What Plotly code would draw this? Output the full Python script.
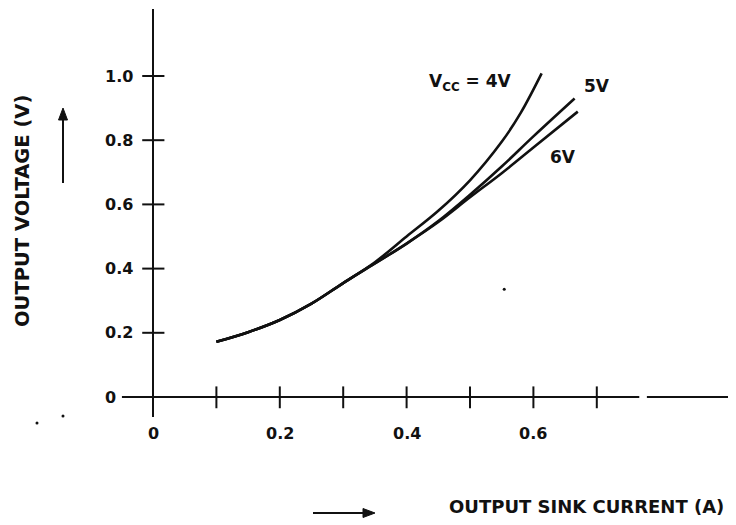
import plotly.graph_objects as go

# ---- data ----
x_4v = [0.10, 0.15, 0.20, 0.25, 0.30, 0.35, 0.40, 0.45, 0.50, 0.55, 0.58, 0.613]
y_4v = [0.172, 0.202, 0.240, 0.291, 0.355, 0.420, 0.500, 0.580, 0.675, 0.795, 0.885, 1.008]

x_5v = [0.10, 0.15, 0.20, 0.25, 0.30, 0.35, 0.40, 0.45, 0.50, 0.55, 0.60, 0.665]
y_5v = [0.172, 0.202, 0.240, 0.291, 0.355, 0.416, 0.478, 0.548, 0.630, 0.718, 0.812, 0.930]

x_6v = [0.10, 0.15, 0.20, 0.25, 0.30, 0.35, 0.40, 0.45, 0.50, 0.55, 0.60, 0.670]
y_6v = [0.172, 0.202, 0.240, 0.291, 0.355, 0.416, 0.478, 0.545, 0.622, 0.697, 0.777, 0.889]

y_ticks = [0.2, 0.4, 0.6, 0.8, 1.0]
y_tick_labels = ["0.2", "0.4", "0.6", "0.8", "1.0"]
x_ticks = [0.1, 0.2, 0.3, 0.4, 0.5, 0.6, 0.7]
x_label_vals = [0.0, 0.2, 0.4, 0.6]
x_label_text = ["0", "0.2", "0.4", "0.6"]

speck_x = [0.554, -0.183, -0.142]
speck_y = [0.336, -0.081, -0.059]

INK = "#111111"
FONT = "DejaVu Sans"

# pixel (screen) -> data helpers; page body adds an 8 px offset
X0, XS = 153, 634.0
Y0, YS = 397, 321.0
OFF = 8


def dx(px):
    return (px - X0) / XS


def dy(py):
    return (Y0 - py) / YS


fig = go.Figure()
for xs, ys in [(x_4v, y_4v), (x_5v, y_5v), (x_6v, y_6v)]:
    fig.add_trace(go.Scatter(x=xs, y=ys, mode="lines",
                             line=dict(color=INK, width=2.6, shape="spline", smoothing=1.0),
                             showlegend=False, hoverinfo="skip"))
fig.add_trace(go.Scatter(x=speck_x, y=speck_y, mode="markers",
                         marker=dict(color=INK, size=3), showlegend=False, hoverinfo="skip"))

shapes = []
ax_line = dict(color=INK, width=2)
# y axis
shapes.append(dict(type="line", xref="x", yref="y", x0=0, x1=0, y0=-0.062, y1=1.209, line=ax_line))
# x axis (with small gap as in original)
shapes.append(dict(type="line", xref="x", yref="y", x0=-0.049, x1=0.767, y0=0, y1=0, line=ax_line))
shapes.append(dict(type="line", xref="x", yref="y", x0=0.779, x1=0.95, y0=0, y1=0, line=ax_line))
for t in y_ticks:
    shapes.append(dict(type="line", xref="x", yref="y", x0=-0.017, x1=0.018, y0=t, y1=t, line=ax_line))
for t in x_ticks:
    shapes.append(dict(type="line", xref="x", yref="y", x0=t, x1=t, y0=-0.035, y1=0.033, line=ax_line))

# direction arrows (shaft + filled head)
shapes.append(dict(type="line", xref="x", yref="y", x0=dx(63), x1=dx(63), y0=dy(183), y1=dy(118),
                   line=ax_line))
shapes.append(dict(type="path", xref="x", yref="y",
                   path="M %f,%f L %f,%f L %f,%f Z" % (dx(63), dy(108), dx(58.5), dy(120), dx(67.5), dy(120)),
                   fillcolor=INK, line=dict(color=INK, width=1)))
shapes.append(dict(type="line", xref="x", yref="y", x0=dx(313), x1=dx(364), y0=dy(513), y1=dy(513),
                   line=ax_line))
shapes.append(dict(type="path", xref="x", yref="y",
                   path="M %f,%f L %f,%f L %f,%f Z" % (dx(375), dy(513), dx(363), dy(508.5), dx(363), dy(517.5)),
                   fillcolor=INK, line=dict(color=INK, width=1)))

ann = []
tick_font = dict(family=FONT, size=16, color=INK)
for t, s in zip(y_ticks, y_tick_labels):
    ann.append(dict(x=-0.028, y=t, xref="x", yref="y", text="<b>%s</b>" % s, showarrow=False,
                    xanchor="right", yanchor="middle", font=tick_font))
ann.append(dict(x=-0.055, y=0, xref="x", yref="y", text="<b>0</b>", showarrow=False,
                xanchor="right", yanchor="middle", font=tick_font))
for v, s in zip(x_label_vals, x_label_text):
    ann.append(dict(x=v, y=-0.114, xref="x", yref="y", text="<b>%s</b>" % s, showarrow=False,
                    xanchor="center", yanchor="middle", font=tick_font))

curve_font = dict(family=FONT, size=17, color=INK)
ann.append(dict(x=dx(427), y=dy(82), xref="x", yref="y",
                text="<b>V<sub>CC</sub> = 4V</b>", showarrow=False, xanchor="left", yanchor="middle",
                font=curve_font))
ann.append(dict(x=dx(597), y=dy(86), xref="x", yref="y", text="<b>5V</b>",
                showarrow=False, xanchor="center", yanchor="middle", font=curve_font))
ann.append(dict(x=dx(563), y=dy(157), xref="x", yref="y", text="<b>6V</b>",
                showarrow=False, xanchor="center", yanchor="middle", font=curve_font))

ann.append(dict(x=dx(447), y=dy(506), xref="x", yref="y",
                text="<b>OUTPUT SINK CURRENT (A)</b>", showarrow=False, xanchor="left",
                yanchor="middle", font=dict(family=FONT, size=18, color=INK)))
ann.append(dict(x=dx(22), y=dy(211), xref="x", yref="y",
                text="<b>OUTPUT VOLTAGE (V)</b>", showarrow=False, textangle=-90,
                xanchor="center", yanchor="middle", font=dict(family=FONT, size=19.5, color=INK)))

# figure sized so that it fits inside the window next to the page's 8 px body margin
W, H = 728, 517
fig.update_layout(
    width=W, height=H, autosize=False,
    margin=dict(l=0, r=0, t=0, b=0),
    paper_bgcolor="white", plot_bgcolor="white",
    xaxis=dict(range=[dx(OFF), dx(W + OFF)], visible=False, fixedrange=True),
    yaxis=dict(range=[dy(H + OFF), dy(OFF)], visible=False, fixedrange=True),
    shapes=shapes, annotations=ann,
)
fig.write_html("out.html")
